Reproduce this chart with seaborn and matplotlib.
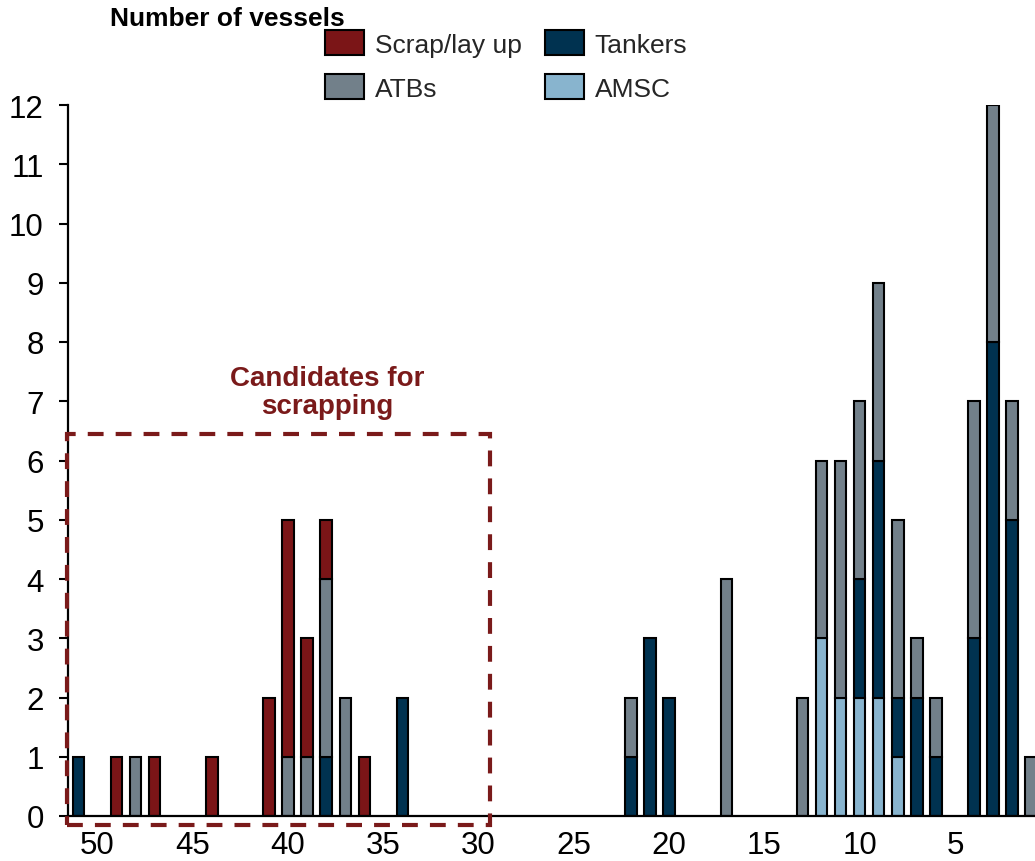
import matplotlib
matplotlib.use("Agg")
import matplotlib.pyplot as plt
from matplotlib.patches import Patch, Rectangle
import pandas as pd
import seaborn as sns

# Fleet age profile (years) by vessel category
scrap_ages = [49, 47, 44, 41, 40, 39, 38, 36]
scrap_counts = [1, 1, 1, 2, 4, 2, 1, 1]

atb_ages = [48, 40, 39, 38, 37, 22, 17, 13, 12, 11, 10, 9, 8, 7, 6, 4, 3, 2, 1]
atb_counts = [1, 1, 1, 3, 2, 1, 4, 2, 3, 4, 3, 3, 3, 1, 1, 4, 4, 2, 1]

tanker_ages = [51, 38, 34, 22, 21, 20, 10, 9, 8, 7, 6, 4, 3, 2]
tanker_counts = [1, 1, 2, 1, 3, 2, 2, 4, 1, 2, 1, 3, 8, 5]

amsc_ages = [12, 11, 10, 9, 8]
amsc_counts = [3, 2, 2, 2, 1]

categories = ["Scrap/lay up", "ATBs", "Tankers", "AMSC"]
colors = {
    "Scrap/lay up": "#7B1517",
    "ATBs": "#72808A",
    "Tankers": "#003250",
    "AMSC": "#88B4CE",
}

x_ticks = [50, 45, 40, 35, 30, 25, 20, 15, 10, 5]
y_ticks = list(range(0, 13))

frames = []
for name, ages, counts in [
    ("Scrap/lay up", scrap_ages, scrap_counts),
    ("ATBs", atb_ages, atb_counts),
    ("Tankers", tanker_ages, tanker_counts),
    ("AMSC", amsc_ages, amsc_counts),
]:
    frames.append(pd.DataFrame({"age": ages, "count": counts, "type": name}))
df = pd.concat(frames, ignore_index=True)

sns.set_theme(style="ticks")
plt.rcParams["font.family"] = ["Liberation Sans", "DejaVu Sans"]

fig = plt.figure(figsize=(10.35, 8.62), dpi=100)
ax = fig.add_axes([68 / 1035, 1 - 817 / 862, (1035 - 68) / 1035, (817 - 106) / 862])

# Stacked bars: last hue level sits at the bottom of each stack
sns.histplot(
    data=df, x="age", weights="count", hue="type", hue_order=categories,
    multiple="stack", discrete=True, shrink=0.6, palette=colors,
    edgecolor="black", linewidth=1.5, alpha=1, legend=False, ax=ax,
)

# drop empty segments so they don't leave outlines on the baseline
for p in list(ax.patches):
    if p.get_height() == 0:
        p.remove()

ax.set_xlim(51.55, 0.8)
ax.set_ylim(0, 12)
ax.set_xticks(x_ticks)
ax.set_yticks(y_ticks)
ax.set_xlabel("")
ax.set_ylabel("")
sns.despine(ax=ax)
for s in ("left", "bottom"):
    ax.spines[s].set_linewidth(1.6)
    ax.spines[s].set_color("black")
ax.tick_params(axis="x", length=0, pad=10, labelsize=22.5, colors="black")
ax.tick_params(axis="y", length=6.5, width=1.5, pad=11, labelsize=22.5,
               colors="black", direction="out")

# Highlight box around the oldest vessels
box = Rectangle((51.6, -0.15), 29.4 - 51.6, 6.6, fill=False,
                edgecolor="#7A1A1A", linewidth=3, linestyle=(0, (3.8, 2.9)),
                clip_on=False, zorder=5)
ax.add_patch(box)
ax.text(37.95, 7.16, "Candidates for\nscrapping", ha="center", va="center",
        fontsize=20, fontweight="bold", color="#7A1A1A", linespacing=1.1)

fig.text(110 / 1035, 1 - 19 / 862, "Number of vessels", ha="left", va="center",
         fontsize=19, fontweight="bold", color="black")

handles = [Patch(facecolor=colors[c], edgecolor="black", linewidth=1.5, label=c)
           for c in categories]
fig.legend(handles=handles, ncol=2, loc="upper left",
           bbox_to_anchor=(325 / 1035, 1 - 31 / 862), frameon=False,
           fontsize=19, handlelength=1.47, handleheight=1.1,
           handletextpad=0.42, columnspacing=0.87, labelspacing=0.66,
           borderpad=0, borderaxespad=0)

fig.savefig("out.png", dpi=100)
